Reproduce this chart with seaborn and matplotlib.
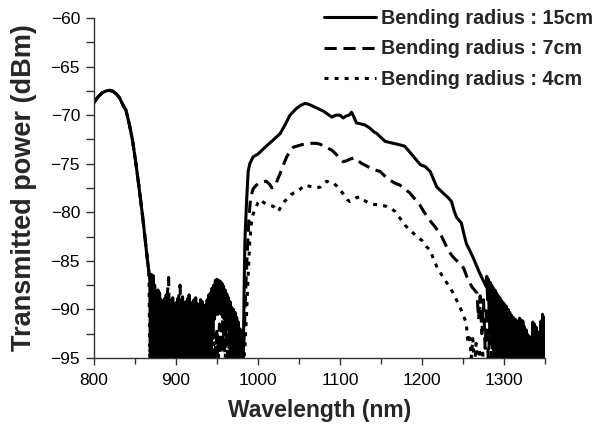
import matplotlib
matplotlib.use("Agg")
import matplotlib.pyplot as plt
from matplotlib.ticker import MultipleLocator
import seaborn as sns
import pandas as pd

# ---------------- data ----------------
series_labels = ["Bending radius : 15cm", "Bending radius : 7cm", "Bending radius : 4cm"]

# shared short-wavelength band (all three radii overlap here)
wl_peak = [800, 805, 810, 815, 819, 823, 827, 831, 835, 839, 843, 847, 851, 855, 859, 862, 865, 867]
pw_peak = [-68.7, -68.1, -67.7, -67.5, -67.45, -67.55, -67.8, -68.2, -68.9, -69.5, -70.9, -72.6,
           -74.9, -77.5, -80.2, -82.5, -84.8, -86.2]

# 15 cm (solid): noise floor sampled every nm from 868 to 982
wl_15_noise = list(range(868, 983))
pw_15_noise = [-86.8, -96, -86.4, -96, -86.5, -95.5, -87.5, -96, -88.8, -96,
               -88.0, -96, -88.3, -96, -89.0, -96, -89.5, -96, -88.9, -96,
               -88.5, -96, -89.2, -96, -89.0, -96, -89.6, -96, -88.8, -96,
               -89.4, -96, -89.3, -96, -88.9, -96, -89.5, -96, -89.0, -96,
               -88.7, -96, -89.6, -96, -89.2, -96, -88.9, -96, -88.5, -96,
               -89.3, -96, -89.5, -96, -89.0, -96, -88.8, -96, -89.4, -96,
               -89.7, -96, -89.0, -96, -89.2, -96, -89.8, -96, -89.5, -96,
               -89.0, -96, -88.5, -96, -88.3, -95.5, -87.8, -93.0, -87.5, -91.0,
               -87.0, -90.5, -86.9, -90.5, -87.0, -90.0, -87.1, -90.5, -87.3, -90.8,
               -87.6, -91.0, -88.0, -91.5, -88.4, -92.0, -88.8, -94.0, -89.2, -95.0,
               -89.8, -96, -90.0, -96, -90.3, -96, -90.8, -96, -91.3, -96,
               -92.0, -96, -93.7, -96, -95.5]
wl_15_band = [983, 984, 986, 988, 990, 994, 1000, 1005, 1010, 1018, 1027, 1033, 1039, 1047, 1052,
              1057, 1061, 1065, 1070, 1075, 1080, 1085, 1090, 1095, 1100, 1104, 1107, 1111, 1114,
              1117, 1120, 1125, 1130, 1136, 1141, 1145, 1150, 1155, 1160, 1165, 1170, 1175, 1179,
              1183, 1188, 1193, 1198, 1204, 1210, 1214, 1218, 1223, 1228, 1232, 1236, 1239, 1242,
              1245, 1248, 1251, 1254, 1258, 1262, 1266, 1270, 1274, 1278]
pw_15_band = [-88.5, -83.0, -79.0, -75.8, -75.0, -74.3, -74.0, -73.6, -73.2, -72.6, -71.9, -71.0,
              -70.0, -69.3, -69.0, -68.8, -68.85, -69.0, -69.2, -69.4, -69.6, -69.9, -70.2, -70.0,
              -70.0, -70.3, -70.1, -70.0, -69.7, -70.2, -70.8, -70.9, -71.0, -71.3, -71.7, -71.9,
              -72.3, -72.7, -72.8, -72.9, -73.0, -73.1, -73.2, -73.6, -74.1, -74.6, -75.1, -75.3,
              -75.8, -76.6, -77.4, -77.8, -78.2, -78.5, -78.9, -79.8, -80.5, -80.8, -81.1, -82.2,
              -83.2, -83.9, -84.6, -85.4, -86.2, -86.9, -87.6]
# 15 cm long-wavelength noisy tail, every nm from 1279 to 1350
wl_15_tail = list(range(1279, 1351))
pw_15_tail = [-86.6, -89.0, -86.9, -91.0, -87.2, -92.5, -87.5, -94.0, -87.8, -95.0,
              -88.0, -96, -88.3, -96, -88.6, -96, -88.8, -96, -89.1, -96,
              -89.3, -96, -89.5, -96, -89.7, -96, -90.0, -96, -90.3, -96,
              -90.6, -96, -90.8, -96, -91.0, -96, -91.1, -96, -91.4, -96,
              -90.9, -96, -91.1, -96, -91.2, -96, -91.8, -96, -92.1, -96,
              -92.6, -96, -92.8, -96, -93.1, -96, -91.3, -96, -91.5, -96,
              -91.8, -96, -92.3, -96, -92.5, -96, -91.2, -96, -90.5, -96,
              -90.8, -96]

# 7 cm (dashed)
wl_7 = [869, 871, 873, 875, 877, 879, 881, 883, 885, 887, 889, 891, 893, 895, 897, 899, 901, 903,
        905, 907, 909, 911, 913, 915, 917, 919, 921, 923, 925, 927, 929, 931, 933, 935, 937, 939,
        941, 943, 945, 947, 949, 951, 953, 955, 957, 959, 961, 963, 965, 967, 969, 971, 973, 975,
        977, 979, 981, 983, 985, 987, 989, 991, 994, 998, 1004, 1010, 1014, 1017, 1021, 1024, 1027,
        1031, 1035, 1039, 1043, 1047, 1051, 1055, 1060, 1066, 1071, 1076, 1080, 1085, 1090, 1095,
        1100, 1104, 1108, 1113, 1118, 1122, 1127, 1134, 1141, 1149, 1155, 1161, 1167, 1173, 1179,
        1185, 1191, 1197, 1202, 1206, 1211, 1216, 1220, 1224, 1228, 1232, 1236, 1240, 1244, 1248,
        1251, 1255, 1258, 1261, 1264, 1267, 1269, 1271, 1273, 1275, 1277, 1279, 1281, 1283, 1285,
        1287, 1289, 1291, 1293, 1295, 1297, 1299, 1301, 1303, 1305, 1350]
pw_7 = [-87.0, -96, -88.0, -96, -89.5, -96, -89.0, -96, -90.0, -96, -89.0, -86.7, -96, -89.5, -96,
        -90.0, -96, -89.0, -87.5, -96, -89.5, -96, -90.0, -96, -89.0, -96, -90.0, -96, -89.5, -96,
        -90.0, -96, -89.5, -96, -90.0, -96, -90.5, -96, -94.0, -95.5, -92.5, -95.0, -91.5, -94.5,
        -91.0, -94.0, -91.5, -95.0, -92.0, -96, -90.5, -96, -91.0, -96, -92.0, -96, -95.0, -93.0,
        -88.0, -84.0, -80.5, -78.5, -77.6, -77.2, -76.9, -76.8, -77.1, -77.5, -77.3, -76.6, -76.0,
        -75.1, -74.3, -73.7, -73.3, -73.2, -73.1, -73.0, -72.9, -72.9, -72.9, -73.0, -73.2, -73.4,
        -73.6, -74.0, -74.5, -74.8, -74.7, -74.5, -74.4, -74.7, -75.0, -75.3, -75.6, -75.8, -76.3,
        -76.7, -77.0, -77.2, -77.6, -78.0, -78.6, -79.2, -79.9, -80.4, -81.0, -81.5, -82.0, -82.5,
        -83.2, -83.9, -84.4, -84.8, -85.1, -85.4, -85.8, -86.7, -87.2, -87.7, -88.0, -88.3, -91.0,
        -88.6, -92.5, -89.0, -94.0, -89.7, -96, -90.3, -96, -91.0, -96, -91.8, -96, -92.5, -96,
        -93.5, -96, -94.5, -96, -97]

# 4 cm (dotted)
wl_4 = [868, 870, 872, 874, 876, 878, 880, 882, 884, 886, 888, 890, 892, 894, 896, 898, 900, 902,
        904, 906, 908, 910, 912, 914, 916, 918, 920, 922, 924, 926, 928, 930, 932, 934, 936, 938,
        940, 942, 944, 946, 948, 950, 952, 954, 956, 958, 960, 962, 964, 966, 968, 970, 972, 974,
        976, 978, 980, 982, 984, 986, 988, 990, 992, 994, 997, 1000, 1003, 1007, 1011, 1015, 1019,
        1022, 1025, 1028, 1032, 1036, 1040, 1044, 1048, 1053, 1057, 1062, 1067, 1071, 1076, 1080,
        1084, 1088, 1092, 1096, 1100, 1105, 1109, 1112, 1116, 1120, 1124, 1128, 1132, 1137, 1142,
        1147, 1152, 1157, 1162, 1167, 1171, 1175, 1180, 1185, 1190, 1195, 1200, 1205, 1210, 1214,
        1218, 1223, 1228, 1233, 1238, 1242, 1246, 1250, 1254, 1256, 1258, 1260, 1262, 1264, 1266,
        1268, 1270, 1272, 1274, 1276, 1280, 1350]
pw_4 = [-95.0, -87.5, -96, -89.0, -96, -89.5, -96, -89.0, -96, -90.0, -96, -89.5, -96, -90.0, -96,
        -89.5, -96, -90.0, -96, -89.5, -96, -90.0, -96, -89.5, -96, -90.0, -96, -89.5, -96, -90.5,
        -96, -90.0, -96, -90.5, -96, -90.0, -96, -91.0, -95.5, -92.5, -95.5, -92.0, -95.0, -91.5,
        -94.5, -92.0, -95.0, -92.5, -95.5, -93.0, -96, -91.0, -96, -91.5, -96, -93.0, -96, -96,
        -94.0, -90.5, -86.5, -83.0, -81.0, -80.2, -79.6, -79.0, -78.7, -79.0, -79.2, -79.3, -79.4,
        -79.7, -79.9, -79.4, -78.9, -78.6, -78.2, -78.0, -77.9, -77.5, -77.2, -77.3, -77.4, -77.5,
        -77.4, -77.0, -76.8, -77.0, -77.0, -77.3, -77.7, -78.2, -78.7, -78.9, -78.7, -78.5, -78.4,
        -78.7, -78.9, -79.1, -79.2, -79.2, -79.3, -79.4, -79.6, -79.9, -80.4, -80.8, -81.4, -81.8,
        -82.2, -82.6, -82.9, -83.5, -83.9, -84.8, -85.6, -86.3, -87.0, -87.6, -88.3, -89.0, -89.7,
        -90.5, -91.4, -93.5, -92.5, -95.0, -93.0, -96, -93.5, -96, -94.0, -96, -94.5, -96, -97, -97]

x_major = [800, 900, 1000, 1100, 1200, 1300]
y_major = [-95, -90, -85, -80, -75, -70, -65, -60]

# ---------------- drawing ----------------
sns.set_style("white")
BOLD_FAMILY = ["Liberation Sans", "DejaVu Sans"]
plt.rcParams["font.family"] = ["Liberation Sans", "DejaVu Sans"]

fig = plt.figure(figsize=(5.94, 4.32), dpi=100)
ax = fig.add_axes([94 / 594, 1 - 358 / 432, (545 - 94) / 594, (358 - 18) / 432])

wl_15 = wl_15_noise + wl_15_band + wl_15_tail
pw_15 = pw_15_noise + pw_15_band + pw_15_tail

styles = ["-", (0, (4, 2.2)), (0, (1.3, 2.0))]
datasets = [(wl_15, pw_15), (wl_7, pw_7), (wl_4, pw_4)]
handles = []
for (wl, pw), ls, lab in zip(datasets, styles, series_labels):
    df = pd.DataFrame({"wl": wl_peak + wl, "pw": pw_peak + pw})
    sns.lineplot(data=df, x="wl", y="pw", ax=ax, color="black", lw=2.2, linestyle=ls,
                 sort=False, estimator=None, label=lab, legend=False)
    handles.append(ax.lines[-1])

ax.set_xlim(800, 1350)
ax.set_ylim(-95, -60)
ax.set_xticks(x_major)
ax.set_yticks(y_major)
ax.xaxis.set_minor_locator(MultipleLocator(50))
ax.yaxis.set_minor_locator(MultipleLocator(2.5))
ax.tick_params(axis="both", which="both", direction="out", color="#333333", width=1,
               labelsize=12.5, labelcolor="black")
ax.tick_params(axis="y", which="both", length=6, left=True, pad=4)
ax.tick_params(axis="x", which="major", length=5, bottom=True, pad=6)
ax.tick_params(axis="x", which="minor", length=4, bottom=True)
for side in ["top", "right"]:
    ax.spines[side].set_visible(False)
for side in ["left", "bottom"]:
    ax.spines[side].set_color("#333333")
    ax.spines[side].set_linewidth(1)

ax.set_xlabel("Wavelength (nm)", fontsize=16.5, labelpad=8, family=BOLD_FAMILY, weight="bold")
ax.set_ylabel("Transmitted power (dBm)", fontsize=19.5, labelpad=10, family=BOLD_FAMILY,
              weight="bold")

fig.legend(handles=handles, labels=series_labels, loc="upper right",
           bbox_to_anchor=(595 / 594, 1 - 7 / 432), frameon=False,
           prop=dict(family=BOLD_FAMILY, weight="bold", size=14.2),
           handlelength=2.6, handletextpad=0.26, labelspacing=0.58,
           borderaxespad=0.0, borderpad=0.1)

fig.savefig("out.png", dpi=100)
